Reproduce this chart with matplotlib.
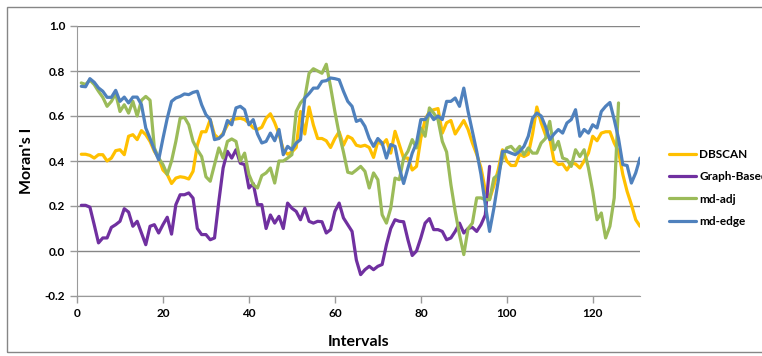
import numpy as np
import matplotlib.pyplot as plt
from matplotlib.patches import Rectangle
from matplotlib.ticker import FormatStrFormatter

# Moran's I per interval
dbscan = [0.43, 0.43, 0.425, 0.413, 0.428, 0.428, 0.40, 0.413, 0.446, 0.45,
          0.428, 0.51, 0.517, 0.495, 0.535, 0.517, 0.487, 0.443, 0.413, 0.36,
          0.34, 0.30, 0.324, 0.33, 0.327, 0.32, 0.354, 0.47, 0.53, 0.53,
          0.584, 0.517, 0.50, 0.524, 0.56, 0.584, 0.587, 0.59, 0.584, 0.569,
          0.547, 0.54, 0.55, 0.59, 0.61, 0.57, 0.52, 0.45, 0.43, 0.44,
          0.46, 0.62, 0.52, 0.64, 0.56, 0.50, 0.50, 0.49, 0.46, 0.50,
          0.53, 0.47, 0.51, 0.50, 0.47, 0.465, 0.47, 0.46, 0.416, 0.487,
          0.473, 0.495, 0.435, 0.532, 0.473, 0.413, 0.413, 0.36, 0.376, 0.50,
          0.584, 0.62, 0.628, 0.633, 0.524, 0.57, 0.58, 0.52, 0.55, 0.58,
          0.54, 0.48, 0.43, 0.37, 0.27, 0.23, 0.29, 0.36, 0.45, 0.40,
          0.38, 0.38, 0.43, 0.42, 0.43, 0.52, 0.64, 0.57, 0.517, 0.50,
          0.40, 0.384, 0.387, 0.36, 0.39, 0.387, 0.369, 0.40, 0.435, 0.51,
          0.49, 0.524, 0.53, 0.53, 0.48, 0.443, 0.34, 0.265, 0.206, 0.139, 0.11]

graph_based = [0.203, 0.203, 0.195, 0.117, 0.036, 0.058, 0.058, 0.105, 0.117, 0.132,
               0.188, 0.173, 0.11, 0.132, 0.08, 0.028, 0.11, 0.117, 0.08, 0.117,
               0.15, 0.075, 0.206, 0.25, 0.25, 0.258, 0.235, 0.10, 0.073, 0.073,
               0.05, 0.058, 0.22, 0.369, 0.443, 0.413, 0.45, 0.39, 0.384, 0.28,
               0.30, 0.206, 0.206, 0.10, 0.16, 0.124, 0.154, 0.10, 0.213, 0.19,
               0.176, 0.139, 0.19, 0.132, 0.124, 0.132, 0.13, 0.08, 0.095, 0.176,
               0.213, 0.147, 0.117, 0.087, -0.04, -0.105, -0.083, -0.068, -0.083, -0.068,
               -0.06, 0.028, 0.10, 0.139, 0.132, 0.13, 0.05, -0.02, 0.0, 0.058,
               0.124, 0.144, 0.095, 0.095, 0.087, 0.05, 0.058, 0.087, 0.124, 0.08,
               0.10, 0.105, 0.087, 0.117, 0.16, 0.376]

md_adj = [0.747, 0.74, 0.76, 0.74, 0.71, 0.683, 0.643, 0.665, 0.70, 0.62,
          0.65, 0.613, 0.665, 0.60, 0.67, 0.687, 0.67, 0.458, 0.413, 0.384,
          0.34, 0.40, 0.487, 0.59, 0.594, 0.561, 0.487, 0.45, 0.42, 0.33,
          0.31, 0.384, 0.458, 0.413, 0.487, 0.498, 0.487, 0.40, 0.435, 0.34,
          0.295, 0.28, 0.335, 0.347, 0.369, 0.302, 0.40, 0.40, 0.413, 0.428,
          0.62, 0.658, 0.68, 0.79, 0.81, 0.80, 0.79, 0.83, 0.73, 0.62,
          0.52, 0.44, 0.35, 0.345, 0.36, 0.376, 0.354, 0.28, 0.347, 0.317,
          0.161, 0.124, 0.19, 0.324, 0.317, 0.413, 0.443, 0.495, 0.458, 0.547,
          0.51, 0.636, 0.613, 0.584, 0.487, 0.44, 0.295, 0.176, 0.073, -0.016,
          0.10, 0.124, 0.236, 0.236, 0.228, 0.228, 0.324, 0.339, 0.413, 0.458,
          0.465, 0.443, 0.465, 0.428, 0.458, 0.435, 0.435, 0.48, 0.50, 0.576,
          0.45, 0.487, 0.413, 0.406, 0.376, 0.45, 0.42, 0.45, 0.369, 0.265,
          0.139, 0.169, 0.058, 0.11, 0.236, 0.658]

md_edge = [0.732, 0.73, 0.766, 0.75, 0.725, 0.71, 0.683, 0.683, 0.714, 0.665,
           0.684, 0.658, 0.684, 0.684, 0.65, 0.547, 0.50, 0.45, 0.405, 0.50,
           0.59, 0.665, 0.68, 0.687, 0.698, 0.695, 0.705, 0.71, 0.65, 0.606,
           0.584, 0.495, 0.50, 0.517, 0.58, 0.561, 0.636, 0.643, 0.628, 0.561,
           0.584, 0.52, 0.48, 0.487, 0.524, 0.49, 0.54, 0.428, 0.465, 0.45,
           0.48, 0.495, 0.68, 0.70, 0.724, 0.724, 0.754, 0.757, 0.769, 0.766,
           0.761, 0.71, 0.665, 0.643, 0.576, 0.584, 0.554, 0.50, 0.465, 0.50,
           0.48, 0.413, 0.473, 0.465, 0.369, 0.30, 0.369, 0.435, 0.48, 0.584,
           0.584, 0.613, 0.584, 0.60, 0.584, 0.665, 0.665, 0.68, 0.643, 0.724,
           0.62, 0.532, 0.443, 0.34, 0.206, 0.087, 0.19, 0.31, 0.443, 0.443,
           0.435, 0.428, 0.443, 0.465, 0.51, 0.59, 0.613, 0.60, 0.554, 0.495,
           0.52, 0.54, 0.524, 0.569, 0.584, 0.628, 0.51, 0.54, 0.524, 0.561,
           0.547, 0.62, 0.643, 0.66, 0.584, 0.50, 0.384, 0.38, 0.302, 0.347, 0.413]

labels = ['DBSCAN', 'Graph-Based', 'md-adj', 'md-edge']
colors = ['#FFC000', '#7030A0', '#9BBB59', '#4F81BD']

plt.rcParams['font.family'] = ['Lato', 'DejaVu Sans']
plt.rcParams['font.weight'] = 'bold'

W, H = 762, 356
fig = plt.figure(figsize=(W / 100, H / 100), dpi=100)
ax = fig.add_axes([77 / W, 1 - 296 / H, (640 - 77) / W, (296 - 26) / H])

for series, label, color in zip([dbscan, graph_based, md_adj, md_edge], labels, colors):
    x = np.arange(1, len(series) + 1)
    ax.plot(x, series, color=color, lw=2.3, label=label,
            solid_joinstyle='round', solid_capstyle='round')

ax.set_xlim(0, 131)
ax.set_ylim(-0.2, 1.0)
ax.set_xticks(range(0, 121, 20))
ax.set_yticks(np.arange(-0.2, 1.01, 0.2))
ax.yaxis.set_major_formatter(FormatStrFormatter('%.1f'))

ax.grid(axis='y', color='#868686', lw=1)
ax.set_axisbelow(True)
for side in ['top', 'right']:
    ax.spines[side].set_visible(False)
for side in ['left', 'bottom']:
    ax.spines[side].set_color('#9a9a9a')
ax.tick_params(axis='both', colors='#9a9a9a', labelcolor='black',
               labelsize=8.5, length=5, width=1)

ax.set_xlabel('Intervals', fontsize=11.5, fontweight='bold', labelpad=12)
ax.set_ylabel("Moran's I", fontsize=11.5, fontweight='bold', labelpad=8)

# legend sits outside the plot on the right; last label runs off the edge like the original
fig.legend(loc='center left', bbox_to_anchor=(669 / W, 1 - 188 / H),
           frameon=False, fontsize=8.5, handlelength=2.3, handletextpad=0.25,
           labelspacing=0.95, borderpad=0, borderaxespad=0)

fig.patches.append(Rectangle((7 / W, 4 / H), 1.0, 1 - 11 / H, transform=fig.transFigure,
                             fill=False, edgecolor='#868686', lw=1))

fig.savefig('out.png', dpi=100)
